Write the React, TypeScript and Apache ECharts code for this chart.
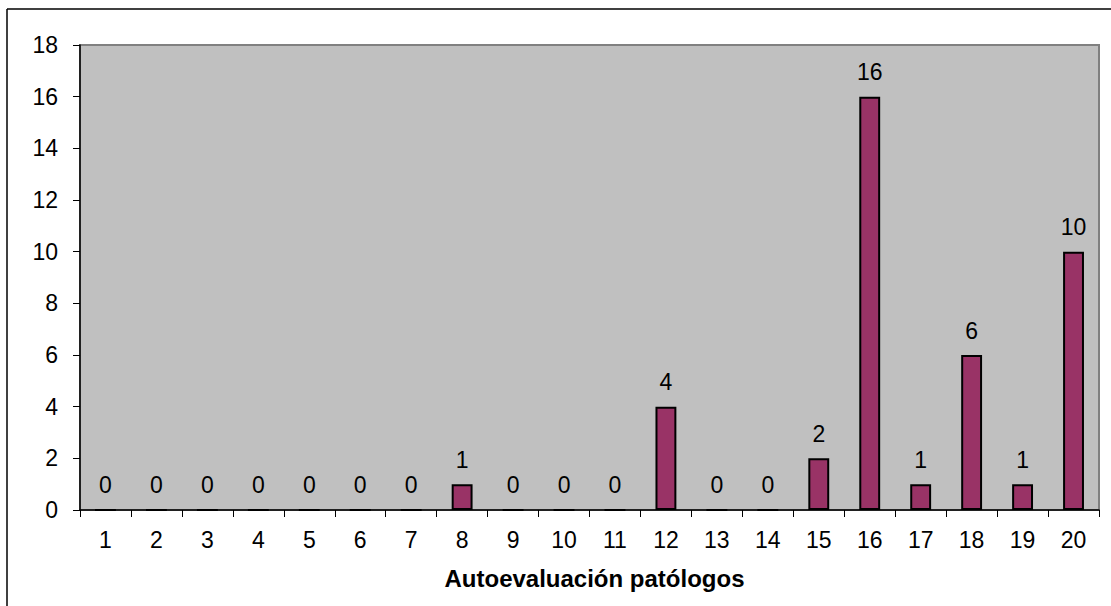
import React, { useEffect, useRef } from "react";
import * as echarts from "echarts";

const categories = ["1","2","3","4","5","6","7","8","9","10","11","12","13","14","15","16","17","18","19","20"];
const values = [0,0,0,0,0,0,0,1,0,0,0,4,0,0,2,16,1,6,1,10];
const yTicks = { min: 0, max: 18, interval: 2 };
const xAxisTitle = "Autoevaluación patólogos";

export default function App() {
  const ref = useRef<HTMLDivElement>(null);
  useEffect(() => {
    if (!ref.current) return;
    const chart = echarts.init(ref.current, undefined, { renderer: "svg" });
    const font = "'Liberation Sans', Arial, sans-serif";
    chart.setOption({
      animation: false,
      textStyle: { fontFamily: font, color: "#000" },
      grid: {
        left: 80, top: 45, right: 12, bottom: 96,
        show: true, backgroundColor: "#C0C0C0", borderColor: "#808080", borderWidth: 2,
      },
      graphic: [
        { type: "line", shape: { x1: 7, y1: 9, x2: 1111, y2: 9 }, style: { stroke: "#000", lineWidth: 1.5 } },
        { type: "line", shape: { x1: 7, y1: 9, x2: 7, y2: 606 }, style: { stroke: "#000", lineWidth: 1.5 } },
      ],
      xAxis: {
        type: "category",
        data: categories,
        axisLine: { lineStyle: { color: "#000", width: 1.5 } },
        axisTick: { show: true, length: 7, lineStyle: { color: "#000" } },
        axisLabel: { fontSize: 23, color: "#000", margin: 18, fontFamily: font },
        name: xAxisTitle,
        nameLocation: "middle",
        nameGap: 56,
        nameTextStyle: { fontSize: 24, fontWeight: "bold", color: "#000", fontFamily: font, padding: [0, 0, 0, 10] },
      },
      yAxis: {
        type: "value",
        min: yTicks.min, max: yTicks.max, interval: yTicks.interval,
        axisLine: { show: true, lineStyle: { color: "#000", width: 1.5 } },
        axisTick: { show: true, length: 7, lineStyle: { color: "#000" } },
        axisLabel: { fontSize: 23, color: "#000", margin: 22, fontFamily: font },
        splitLine: { show: false },
      },
      series: [{
        type: "bar",
        data: values,
        barWidth: "41%",
        itemStyle: { color: "#993366", borderColor: "#000", borderWidth: 2 },
        label: { show: true, position: "top", distance: 13, fontSize: 23, color: "#000", fontFamily: font },
      }],
    });
    return () => chart.dispose();
  }, []);
  return <div ref={ref} style={{ position: "fixed", left: 0, top: 0, width: 1111, height: 606, background: "#fff" }} />;
}
